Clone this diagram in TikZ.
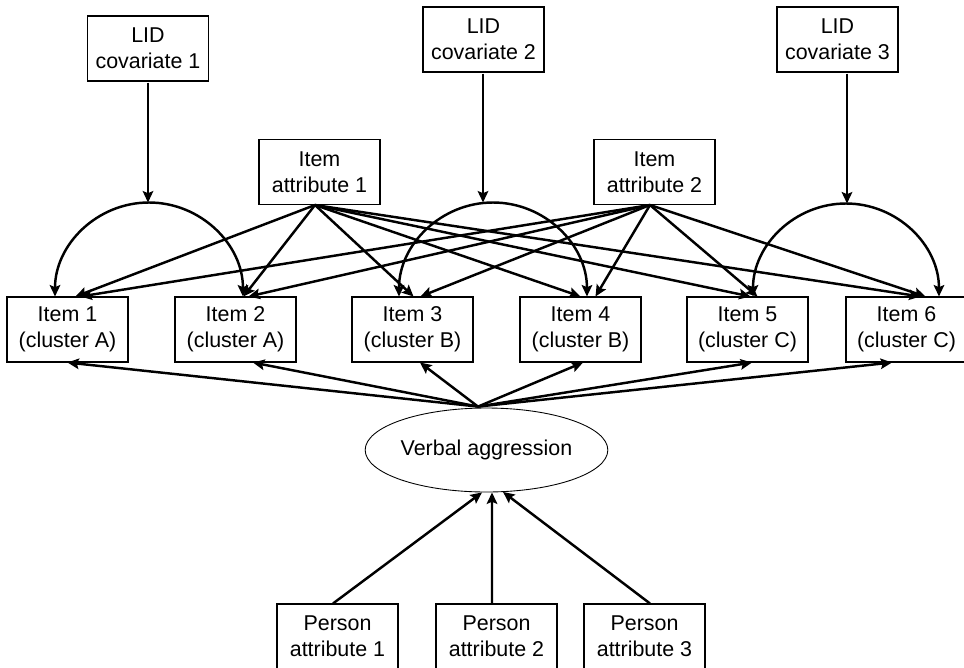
\documentclass[tikz,border=0pt]{standalone}
\usepackage{fontspec}
\setmainfont{Liberation Sans}
\usetikzlibrary{arrows.meta,calc,shapes.geometric}

\tikzset{
	box/.style={draw, line width=0.6pt, minimum width=2.42cm, minimum height=1.3cm, inner sep=0pt, align=center, font=\fontsize{12.2}{15}\selectfont},
	arr/.style={-{Stealth[length=6.5pt,width=6pt,inset=1.2pt]}, line width=1.4pt},
	dbl/.style={{Stealth[length=6.5pt,width=6pt,inset=1.2pt]}-{Stealth[length=6.5pt,width=6pt,inset=1.2pt]}, line width=1.4pt}
}

\begin{document}
\begin{tikzpicture}[x=0.02cm, y=-0.02cm]
			\useasboundingbox (0,0) rectangle (964,667);
			% LID covariates
			\node [box] (lid1) at (148,48.5) {LID\\covariate 1};
			\node [box] (lid2) at (483.5,39.5) {LID\\covariate 2};
			\node [box] (lid3) at (837.5,39.5) {LID\\covariate 3};
	
			% item attributes
			\node [box] (ia1) at (319.5,172) {Item\\attribute 1};
			\node [box] (ia2) at (654.5,172) {Item\\attribute 2};
	
			% items
			\node [box] (i1) at (67.5,329.5) {Item 1\\(cluster A)};
			\node [box] (i2) at (235.5,329.5) {Item 2\\(cluster A)};
			\node [box] (i3) at (412.5,329.5) {Item 3\\(cluster B)};
			\node [box] (i4) at (580.5,329.5) {Item 4\\(cluster B)};
			\node [box] (i5) at (747.5,329.5) {Item 5\\(cluster C)};
			\node [box] (i6) at (906.5,329.5) {Item 6\\(cluster C)};
	
			% latent + persons
			\node [draw, ellipse, line width=0.5pt, minimum width=4.66cm, minimum height=1.68cm, inner sep=0pt, font=\fontsize{12.2}{15}\selectfont] (va) at (486.5,450) {Verbal aggression};
			\node [box] (p1) at (337.5,636.5) {Person\\attribute 1};
			\node [box] (p2) at (496.5,636.5) {Person\\attribute 2};
			\node [box] (p3) at (644.5,636.5) {Person\\attribute 3};
	
			% local dependence arcs
			\draw [dbl] ($(i1.north)+(-12.5,0)$) arc[start angle=180, end angle=90, radius=1.88cm] coordinate (top1) arc[start angle=90, end angle=0, radius=1.88cm];
			\draw [dbl] ($(i3.north)+(-13.5,0)$) arc[start angle=180, end angle=90, radius=1.88cm] coordinate (top2) arc[start angle=90, end angle=0, radius=1.88cm];
			\draw [dbl] ($(i5.north)+(5.5,0)$) arc[start angle=180, end angle=90, radius=1.86cm] coordinate (top3) arc[start angle=90, end angle=0, radius=1.86cm];
			\coordinate (c1) at ($(lid1.south)+(0,1)$);
			\coordinate (c2) at ($(lid2.south)+(-0.5,1)$);
			\coordinate (c3) at ($(lid3.south)+(9.5,1)$);
			\draw [arr] (c1) -- (c1 |- top1);
			\draw [arr] (c2) -- (c2 |- top2);
			\draw [arr] (c3) -- (c3 |- top3);
	
			% attributes to items
			\coordinate (s1) at ($(ia1.south)+(-4.5,0)$);
			\coordinate (s2) at ($(ia2.south)+(-4.5,0)$);
			\foreach \k/\a/\b in {1/8/13, 2/8/13, 3/1/8, 4/0/15, 5/3/10, 6/14/19} {
				\draw [arr] (s1) -- ($(i\k.north)+(\a,0)$);
				\draw [arr] (s2) -- ($(i\k.north)+(\b,0)$);
			}
	
			% latent to items
			\coordinate (hub) at ($(va.north)+(-8.5,-1)$);
			\foreach \k/\a in {1/0, 2/17.5, 3/7.5, 4/2.5, 5/4.5, 6/-14.5} {
				\draw [arr] (hub) -- ($(i\k.south)+(\a,0)$);
			}
	
			% persons to latent
			\draw [arr] ($(p1.north)+(-4.5,0)$) -- ($(va.south)+(-4.5,0)$);
			\draw [arr] ($(p2.north)+(-4.5,0)$) -- ($(va.south)+(5.5,0)$);
			\draw [arr] ($(p3.north)+(5.5,0)$) -- ($(va.south)+(16.5,-0.5)$);
			\end{tikzpicture}
\end{document}
